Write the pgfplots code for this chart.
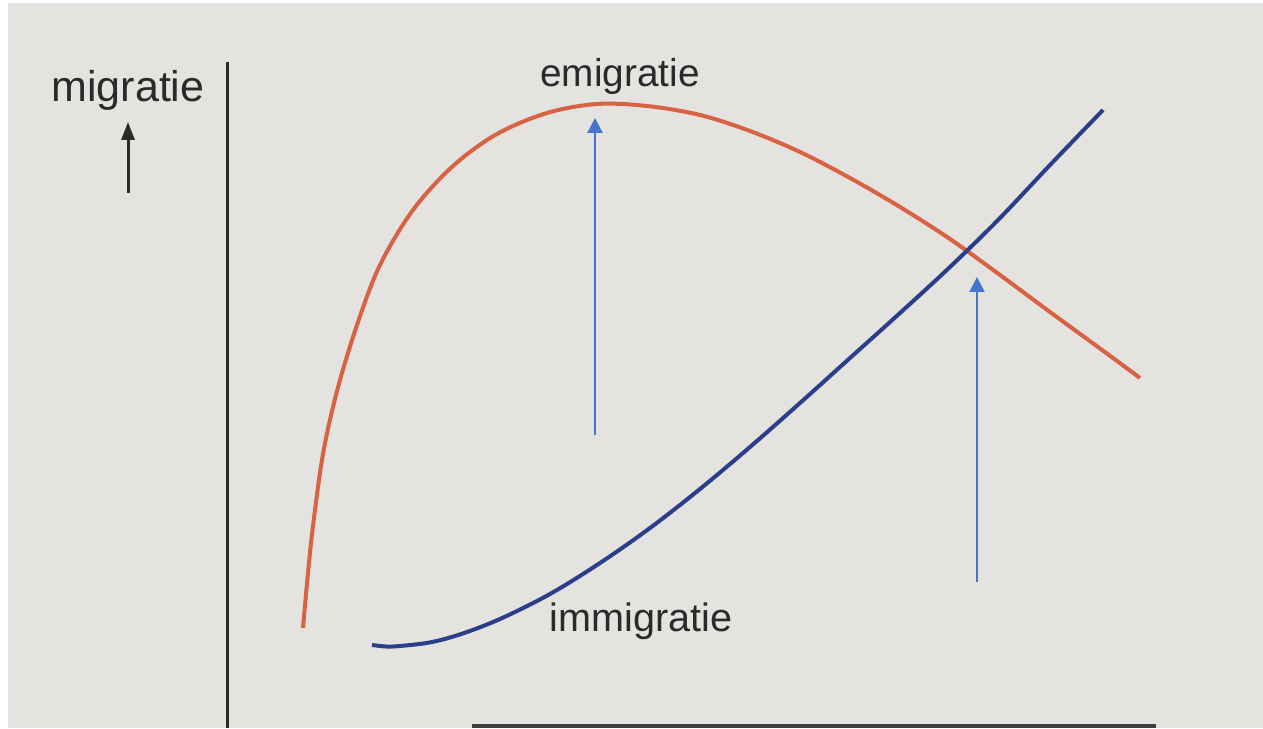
\documentclass[border=0pt]{standalone}
\usepackage{pgfplots}
\pgfplotsset{compat=1.18}
\usepackage{fontspec}
\setmainfont{Liberation Sans}
\usetikzlibrary{arrows.meta}
\definecolor{paper}{RGB}{229,227,223}
\definecolor{emi}{RGB}{216,98,68}
\definecolor{immi}{RGB}{42,62,140}
\definecolor{arr}{RGB}{68,116,204}
\definecolor{ink}{RGB}{42,42,42}
\begin{document}
\begin{tikzpicture}
\begin{axis}[
  width=631.5pt, height=364pt, scale only axis,
  xmin=0, xmax=1263, ymin=0, ymax=728,
  hide axis, clip=true,
]
\fill[white] (axis cs:0,0) rectangle (axis cs:1263,728);
\fill[paper] (axis cs:8,0) rectangle (axis cs:1263,725);
% vertical axis
\addplot[ink, line width=1.5pt] coordinates {(227,0) (227,666)};
% bottom axis
\addplot[ink!90, line width=2.2pt] coordinates {(472,2) (1156,2)};
% emigratie
\addplot[emi, line width=2pt, smooth, tension=0.55] coordinates {
(303,100)(307.5,150)(313,202)(323,274)(337,337)(357,403)(380,463)(413,518)
(453,562)(497,594)(547,615)(597,624)(647,622)(700,613)(750,597)(800,576)
(850,550)(900,521)(950,489)(1000,453)(1050,416)(1100,379.5)(1140,350)};
% immigratie
\addplot[immi, line width=2pt, smooth, tension=0.55] coordinates {
(372,83)(386,81.5)(400,82)(430,85.6)(460,93.6)(500,109)(550,134)(600,165)
(650,200)(700,239)(750,281)(800,325)(850,370)(900,415)(950,461)(1000,510)
(1050,563)(1103,618)};
% light blue arrows
\addplot[arr, line width=1.2pt, -{Triangle[width=7.5pt,length=7.5pt]}] coordinates {(595,293) (595,610)};
\addplot[arr, line width=1.2pt, -{Triangle[width=7.5pt,length=7.5pt]}] coordinates {(977,146) (977,451)};
% black arrow under migratie
\addplot[ink, line width=1.5pt, -{Triangle[width=6.5pt,length=9pt]}] coordinates {(128,535) (128,606)};
\node[ink, anchor=base, font=\fontsize{21.5}{24}\selectfont] at (axis cs:128,626) {migratie};
\node[ink, anchor=base, font=\fontsize{19.4}{22}\selectfont] at (axis cs:620,641) {emigratie};
\node[ink, anchor=base, font=\fontsize{19.8}{22}\selectfont] at (axis cs:641,96) {immigratie};
\end{axis}
\end{tikzpicture}
\end{document}
